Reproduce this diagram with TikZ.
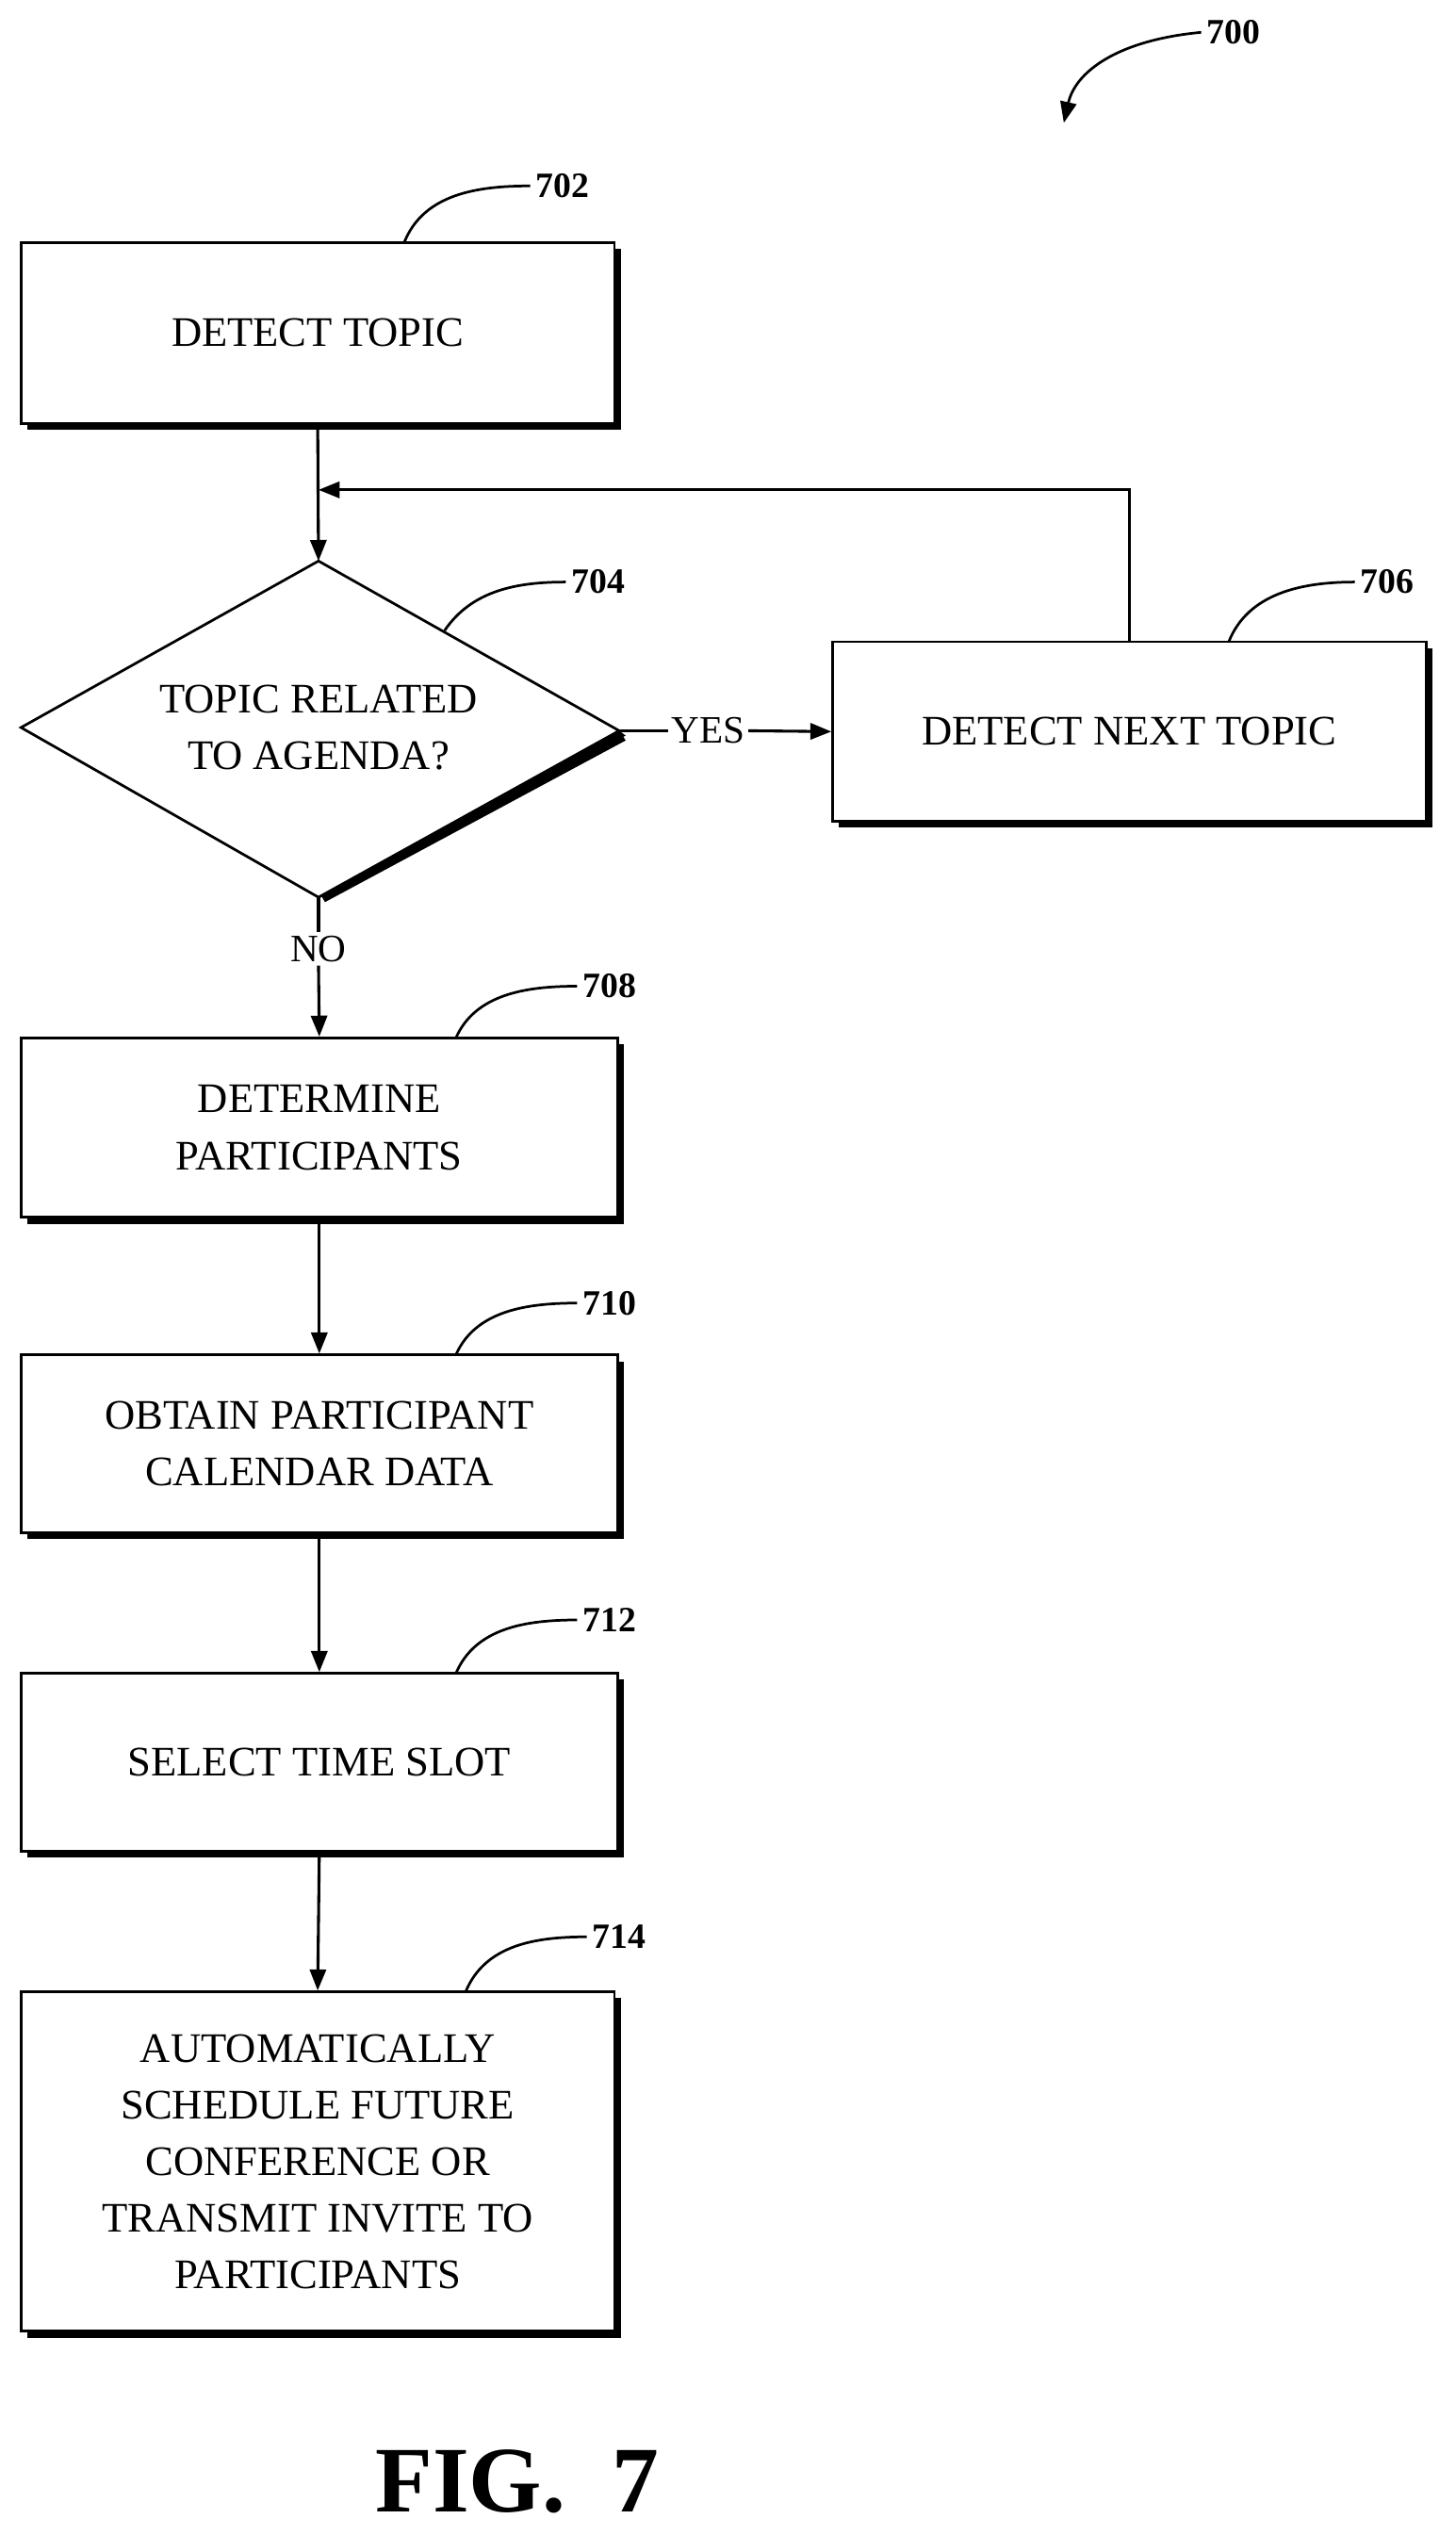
\documentclass[tikz,border=0pt]{standalone}
\usepackage{fontspec}
\setmainfont{Liberation Serif}
\usetikzlibrary{arrows.meta,shapes.geometric}
\begin{document}
\begin{tikzpicture}[x=1pt,y=-1pt,
  box/.style={draw,line width=1.6pt,fill=white,minimum width=367pt,inner sep=0pt,align=center,font=\fontsize{26}{35}\selectfont},
  lbl/.style={font=\bfseries\fontsize{22}{24}\selectfont},
  lead/.style={line width=1.6pt},
  arr/.style={line width=1.8pt,-{Triangle[length=13pt,width=10pt]}}]
\useasboundingbox (0,0) rectangle (900,1568);
\newcommand{\shbox}[6]{%
 \fill (#2+4,#3+4) rectangle (#4+4,#5+4);
 \node[box,minimum width=#4-#2,minimum height=#5-#3] (#1) at ({(#2+#4)/2},{(#3+#5)/2}) {#6};}
\shbox{b702}{13}{150}{380}{262}{DETECT TOPIC}
\shbox{b706}{515}{397}{882}{508}{DETECT NEXT TOPIC}
\shbox{b708}{13}{642}{382}{753}{DETERMINE\\PARTICIPANTS}
\shbox{b710}{13}{838}{382}{948}{OBTAIN PARTICIPANT\\CALENDAR DATA}
\shbox{b712}{13}{1035}{382}{1145}{SELECT TIME SLOT}
\shbox{b714}{13}{1232}{380}{1442}{AUTOMATICALLY\\SCHEDULE FUTURE\\CONFERENCE OR\\TRANSMIT INVITE TO\\PARTICIPANTS}
% diamond
\fill (197,555) -- (387,455) -- (383,452) -- (197,551) -- cycle;
\fill (197,551) -- (201,558) -- (387,458) -- (383,452) -- cycle;
\draw[line width=1.6pt,fill=white] (13,450) -- (197,347) -- (383,452) -- (197,555) -- cycle;
\coordinate (dT) at (197,347); \coordinate (dB) at (197,555); \coordinate (dR) at (383,452);
\node[align=center,font=\fontsize{26}{35}\selectfont] (t704) at (197,450) {TOPIC RELATED\\TO AGENDA?};
% arrows
\draw[arr] (b702.south) -- (dT);
\node[font=\fontsize{24}{26}\selectfont,fill=white,inner sep=2pt] (yes) at (438,452) {YES};
\draw[line width=1.8pt] (dR) -- (yes.west);
\draw[arr] (yes.east) -- (b706.west);
\node[font=\fontsize{24}{26}\selectfont,fill=white,inner sep=2pt] (no) at (197,587) {NO};
\draw[line width=1.8pt] (dB) -- (no.north);
\draw[arr] (no.south) -- (b708.north);
\coordinate (lp) at (197,303);
\draw[arr] (b706.north) |- (lp);
\draw[arr] (b708.south) -- (b710.north);
\draw[arr] (b710.south) -- (b712.north);
\draw[arr] (b712.south) -- (b714.north);
% labels
\node[lbl] (l702) at (348,115) {702};
\draw[lead] (250,150) .. controls (262,120) and (295,115) .. (l702.west);
\node[lbl] (l704) at (370,360) {704};
\draw[lead] (275,390) .. controls (292,365) and (320,360) .. (l704.west);
\node[lbl] (l706) at (858,360) {706};
\draw[lead] (760,397) .. controls (772,367) and (805,360) .. (l706.west);
\node[lbl] (l708) at (377,610) {708};
\draw[lead] (282,642) .. controls (294,615) and (325,610) .. (l708.west);
\node[lbl] (l710) at (377,806) {710};
\draw[lead] (282,838) .. controls (294,811) and (325,806) .. (l710.west);
\node[lbl] (l712) at (377,1002) {712};
\draw[lead] (282,1035) .. controls (294,1007) and (325,1002) .. (l712.west);
\node[lbl] (l714) at (383,1198) {714};
\draw[lead] (288,1232) .. controls (300,1203) and (331,1198) .. (l714.west);
\node[lbl] (l700) at (763,20) {700};
\coordinate (a700) at (658,76);
\draw[line width=1.6pt,-{Triangle[length=13pt,width=10pt]}] (l700.west) .. controls (690,25) and (665,45) .. (a700);
\node[font=\bfseries\fontsize{58}{60}\selectfont] (fig) at (320,1535) {FIG.\ \ 7};
\end{tikzpicture}
\end{document}
